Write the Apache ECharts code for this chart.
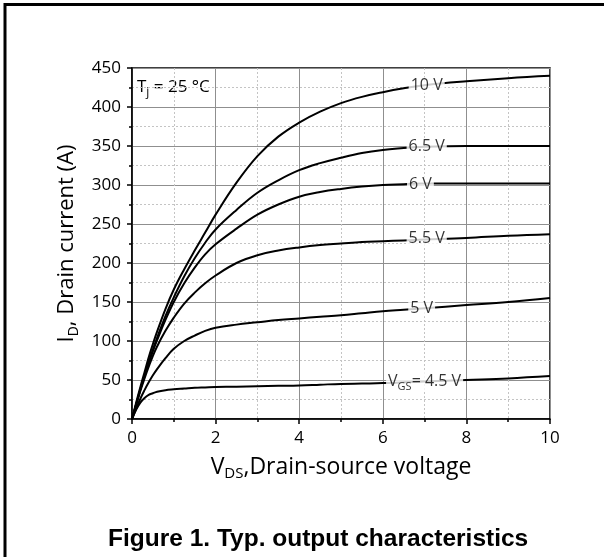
<!DOCTYPE html>
<html>
<head>
<meta charset="utf-8">
<script src="https://cdn.jsdelivr.net/npm/echarts@6/dist/echarts.min.js"></script>
<style>
  html, body { margin: 0; padding: 0; background: #fff; }
  #main { width: 604px; height: 557px; }
</style>
</head>
<body>
<div id="main"></div>
<script>
// VDS sample points (V)
const vds = [0, 0.1, 0.2, 0.3, 0.4, 0.5, 0.6, 0.8, 1, 1.25, 1.5, 1.75, 2, 2.5, 3, 3.5, 4, 4.5, 5, 5.5, 6, 6.5, 7, 8, 9, 10];

// ID (A) per gate voltage
const id10 = [0, 21, 41, 60, 79, 96, 112, 141, 166, 192, 216, 239, 262, 303, 337, 362, 380, 394, 405, 413, 419, 424, 428, 433, 437, 440];
const id65 = [0, 19, 38, 56, 73, 89, 104, 132, 156, 183, 206, 226, 243, 268, 290, 306, 319, 328, 335, 341, 345, 347.5, 349, 350, 350, 350];
const id6 = [0, 19, 38, 56, 72, 87, 101, 127, 150, 174, 194, 211, 224, 244, 262, 275, 285, 291, 295, 298, 300, 301, 302, 302, 302, 302];
const id55 = [0, 18, 36, 52, 67, 81, 93, 113, 130, 148, 162, 174, 184, 200, 210, 216, 220, 223, 225, 227, 228, 229, 230, 232, 235, 237];
const id5 = [0, 13, 26, 37, 47, 56, 64, 78, 90, 100, 107, 113, 117, 121, 124, 127, 129, 131, 133, 135.5, 138, 140, 142, 146, 150, 155];
const id45 = [0, 12, 21, 27, 31, 33, 35, 37, 38, 39, 40, 40.5, 41, 41.5, 42, 42.5, 43, 44, 45, 45.5, 46, 47, 48, 50, 52, 55];

// curve labels (sit on the lines)
const labelText = ['10 V', '6.5 V', '6 V', '5.5 V', '5 V', '{a|V}{s|GS}{a|= 4.5 V}'];
const labelX = [7.05, 7.05, 6.9, 7.05, 6.93, 7.0];
const labelY = [428, 349, 301, 231, 142, 48];

const curves = [id10, id65, id6, id55, id5, id45];

const chart = echarts.init(document.getElementById('main'));

const font = 'Open Sans';

const lineSeries = curves.map(function (ys) {
  return {
    type: 'line',
    data: vds.map(function (x, i) { return [x, ys[i]]; }),
    showSymbol: false,
    smooth: 0.4,
    lineStyle: { color: '#000', width: 2 },
    silent: true,
    z: 3
  };
});

const option = {
  animation: false,
  title: {
    text: 'Figure 1. Typ. output characteristics',
    left: 103,
    top: 522,
    textStyle: { fontFamily: 'Liberation Sans', fontWeight: 'bold', fontSize: 24.5, color: '#000' }
  },
  grid: {
    left: 132, top: 68, width: 418, height: 351,
    show: true, borderColor: '#000', borderWidth: 1.5, backgroundColor: 'transparent'
  },
  xAxis: {
    type: 'value',
    min: 0, max: 10, interval: 2,
    name: '{a|V}{s|DS}{a|,Drain-source voltage}',
    nameLocation: 'middle',
    nameGap: 34,
    nameTextStyle: {
      rich: {
        a: { fontFamily: font, fontSize: 23, color: '#000', lineHeight: 28 },
        s: { fontFamily: font, fontSize: 15, color: '#000', lineHeight: 15, verticalAlign: 'bottom' }
      }
    },
    axisLine: { lineStyle: { color: '#000', width: 1.5 } },
    axisTick: { show: true, inside: false, length: 5, lineStyle: { color: '#000', width: 1.5 } },
    minorTick: { show: true, splitNumber: 2, length: 3, lineStyle: { color: '#000', width: 1.5 } },
    axisLabel: { fontFamily: font, fontSize: 17, color: '#000', margin: 11 },
    splitLine: { show: true, lineStyle: { color: '#8f8f8f', width: 1 } },
    minorSplitLine: { show: true, lineStyle: { color: '#c4c4c4', width: 1, type: [2, 2] } }
  },
  yAxis: {
    type: 'value',
    min: 0, max: 450, interval: 50,
    name: '{a|I}{s|D}{a|, Drain current (A)}',
    nameLocation: 'middle',
    nameGap: 44,
    nameRotate: 90,
    nameTextStyle: {
      rich: {
        a: { fontFamily: font, fontSize: 22, color: '#000', lineHeight: 28 },
        s: { fontFamily: font, fontSize: 14, color: '#000', lineHeight: 14, verticalAlign: 'bottom' }
      }
    },
    axisLine: { show: true, lineStyle: { color: '#000', width: 1.5 } },
    axisTick: { show: true, inside: false, length: 5, lineStyle: { color: '#000', width: 1.5 } },
    minorTick: { show: true, splitNumber: 2, length: 3, lineStyle: { color: '#000', width: 1.5 } },
    axisLabel: { fontFamily: font, fontSize: 17, color: '#000', margin: 11 },
    splitLine: { show: true, lineStyle: { color: '#8f8f8f', width: 1 } },
    minorSplitLine: { show: true, lineStyle: { color: '#c4c4c4', width: 1, type: [2, 2] } }
  },
  graphic: [
    {
      type: 'rect',
      silent: true,
      shape: { x: 5, y: 4.5, width: 700, height: 700 },
      style: { fill: 'none', stroke: '#000', lineWidth: 3 }
    },
    {
      type: 'text',
      left: 137,
      top: 79,
      silent: true,
      style: {
        text: '{a|T}{s|j}{a| = 25 °C}',
        rich: {
          a: { fontFamily: font, fontSize: 17, fill: '#000', lineHeight: 23 },
          s: { fontFamily: font, fontSize: 12, fill: '#000', lineHeight: 12, verticalAlign: 'bottom' }
        }
      }
    }
  ],
  series: lineSeries.concat([{
    type: 'scatter',
    data: labelX.map(function (x, i) { return { value: [x, labelY[i]], name: labelText[i] }; }),
    symbolSize: 1,
    itemStyle: { color: 'transparent' },
    silent: true,
    z: 10,
    label: {
      show: true,
      position: 'inside',
      formatter: function (p) { return p.name; },
      fontFamily: font,
      fontSize: 16,
      color: '#000',
      backgroundColor: '#fff',
      padding: [0, 2],
      rich: {
        a: { fontFamily: font, fontSize: 16, color: '#000', lineHeight: 21 },
        s: { fontFamily: font, fontSize: 11, color: '#000', lineHeight: 11, verticalAlign: 'bottom' }
      }
    }
  }])
};

chart.setOption(option);
</script>
</body>
</html>
